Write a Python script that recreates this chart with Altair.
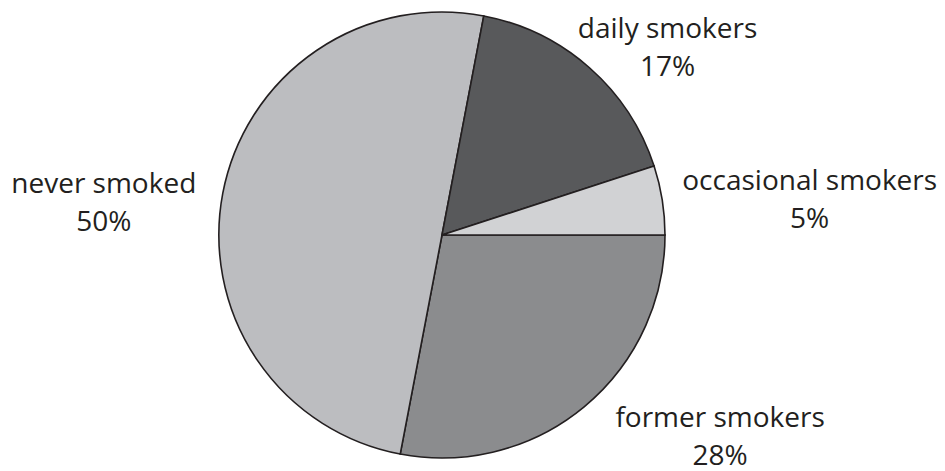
import math
import altair as alt
import pandas as pd

categories = ["former smokers", "never smoked", "daily smokers", "occasional smokers"]
shares = [28, 50, 17, 5]
colors = ["#8b8c8e", "#bcbdc0", "#58595b", "#d1d2d4"]

df = pd.DataFrame({
    "category": categories,
    "share": shares,
    "order": list(range(len(categories))),
})
df["label"] = df["category"] + "\n" + df["share"].astype(str) + "%"

theta_scale = alt.Scale(range=[math.pi / 2, math.pi / 2 + 2 * math.pi])
CX, CY = 434, 227

base = alt.Chart(df)

pie = base.mark_arc(outerRadius=223, stroke="#231f20", strokeWidth=1.6).encode(
    theta=alt.Theta("share:Q", stack=True, scale=theta_scale),
    color=alt.Color("category:N", scale=alt.Scale(domain=categories, range=colors), legend=None),
    order=alt.Order("order:Q"),
    x=alt.value(CX),
    y=alt.value(CY),
)

offsets = {
    "former smokers": (106, -16),
    "never smoked": (-73, 9),
    "daily smokers": (47, 6),
    "occasional smokers": (101, -3),
}

layers = [pie]
for cat in categories:
    dx, dy = offsets[cat]
    layers.append(
        base.mark_text(
            radius=270, align="center", baseline="alphabetic", lineBreak="\n",
            lineHeight=38, font="Open Sans", fontSize=28, color="#231f20",
            dx=dx, dy=dy,
        ).encode(
            theta=alt.Theta("share:Q", stack=True, scale=theta_scale),
            order=alt.Order("order:Q"),
            text="label:N",
            x=alt.value(CX),
            y=alt.value(CY),
            opacity=alt.condition(alt.datum.category == cat, alt.value(1), alt.value(0)),
        )
    )

chart = alt.layer(*layers).properties(
    width=929, height=462, padding=0,
    autosize=alt.AutoSizeParams(type="none"),
    background="white",
).configure_view(stroke=None)

chart.save("out.html", embed_options={"renderer": "svg", "actions": False})
